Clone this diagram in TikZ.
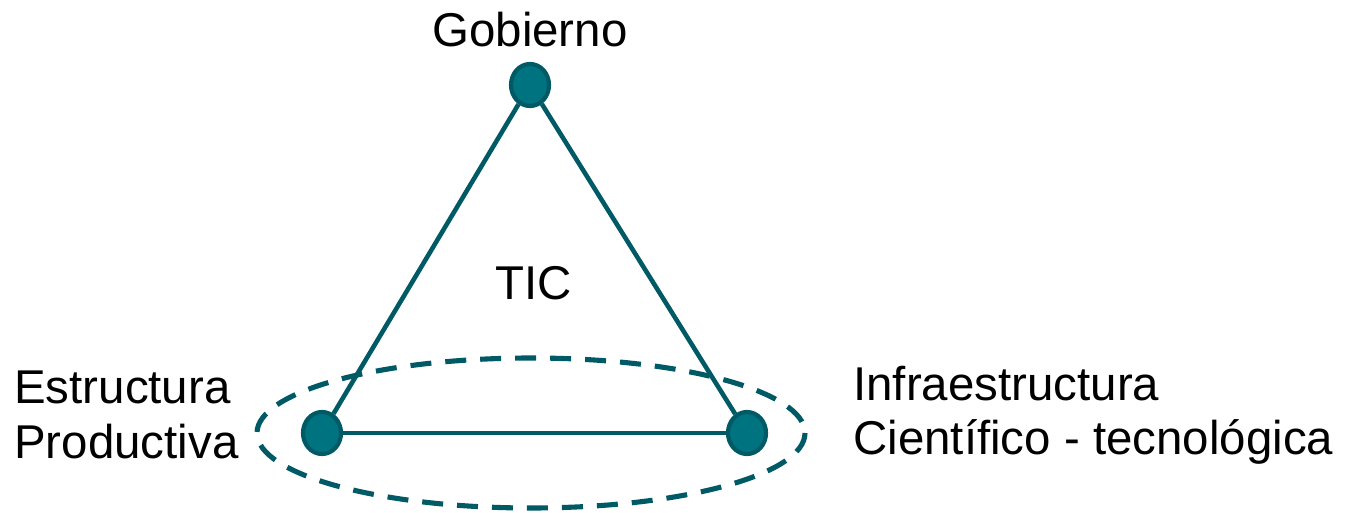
\documentclass[tikz,border=0pt]{standalone}
\usepackage{fontspec}
\setmainfont{Liberation Sans}
\usetikzlibrary{shapes.geometric}

\definecolor{tealfill}{HTML}{007380}
\definecolor{tealline}{HTML}{005A66}

\tikzset{
  actor/.style={ellipse, draw=tealline, fill=tealfill, line width=2.4pt,
    minimum width=0.76cm, minimum height=0.84cm, inner sep=0pt},
  edge/.style={draw=tealline, line width=2.6pt},
  lbl/.style={font=\fontsize{27}{31}\selectfont, inner sep=0pt}
}

\begin{document}
\begin{tikzpicture}[x=0.02cm, y=-0.02cm]
        \useasboundingbox (0,0) rectangle (1349,513);

        % Actors of the triangle
        \node[actor] (gob) at (530, 85) {};
        \node[actor] (prod) at (322, 433) {};
        \node[actor] (infra) at (747, 433) {};

        % Sides
        \draw[edge] (gob) -- (prod);
        \draw[edge] (gob) -- (infra);
        \draw[edge] (prod) -- (infra);

        % Dashed ring round the base
        \draw[tealline, line width=2.9pt, dash pattern=on 0.42cm off 0.28cm]
            (531, 433) ellipse [x radius=274, y radius=75];

        % Labels
        \node[lbl] (gobtxt) at (530, 30) {Gobierno};
        \node[lbl] (tic) at (534, 283) {TIC};
        \node[lbl, align=left, anchor=west] (prodtxt) at (14, 415)
            {Estructura\\Productiva};
        \node[lbl, align=left, anchor=west] (infratxt) at (853, 415)
            {Infraestructura\\Científico - tecnológica};
\end{tikzpicture}
\end{document}
